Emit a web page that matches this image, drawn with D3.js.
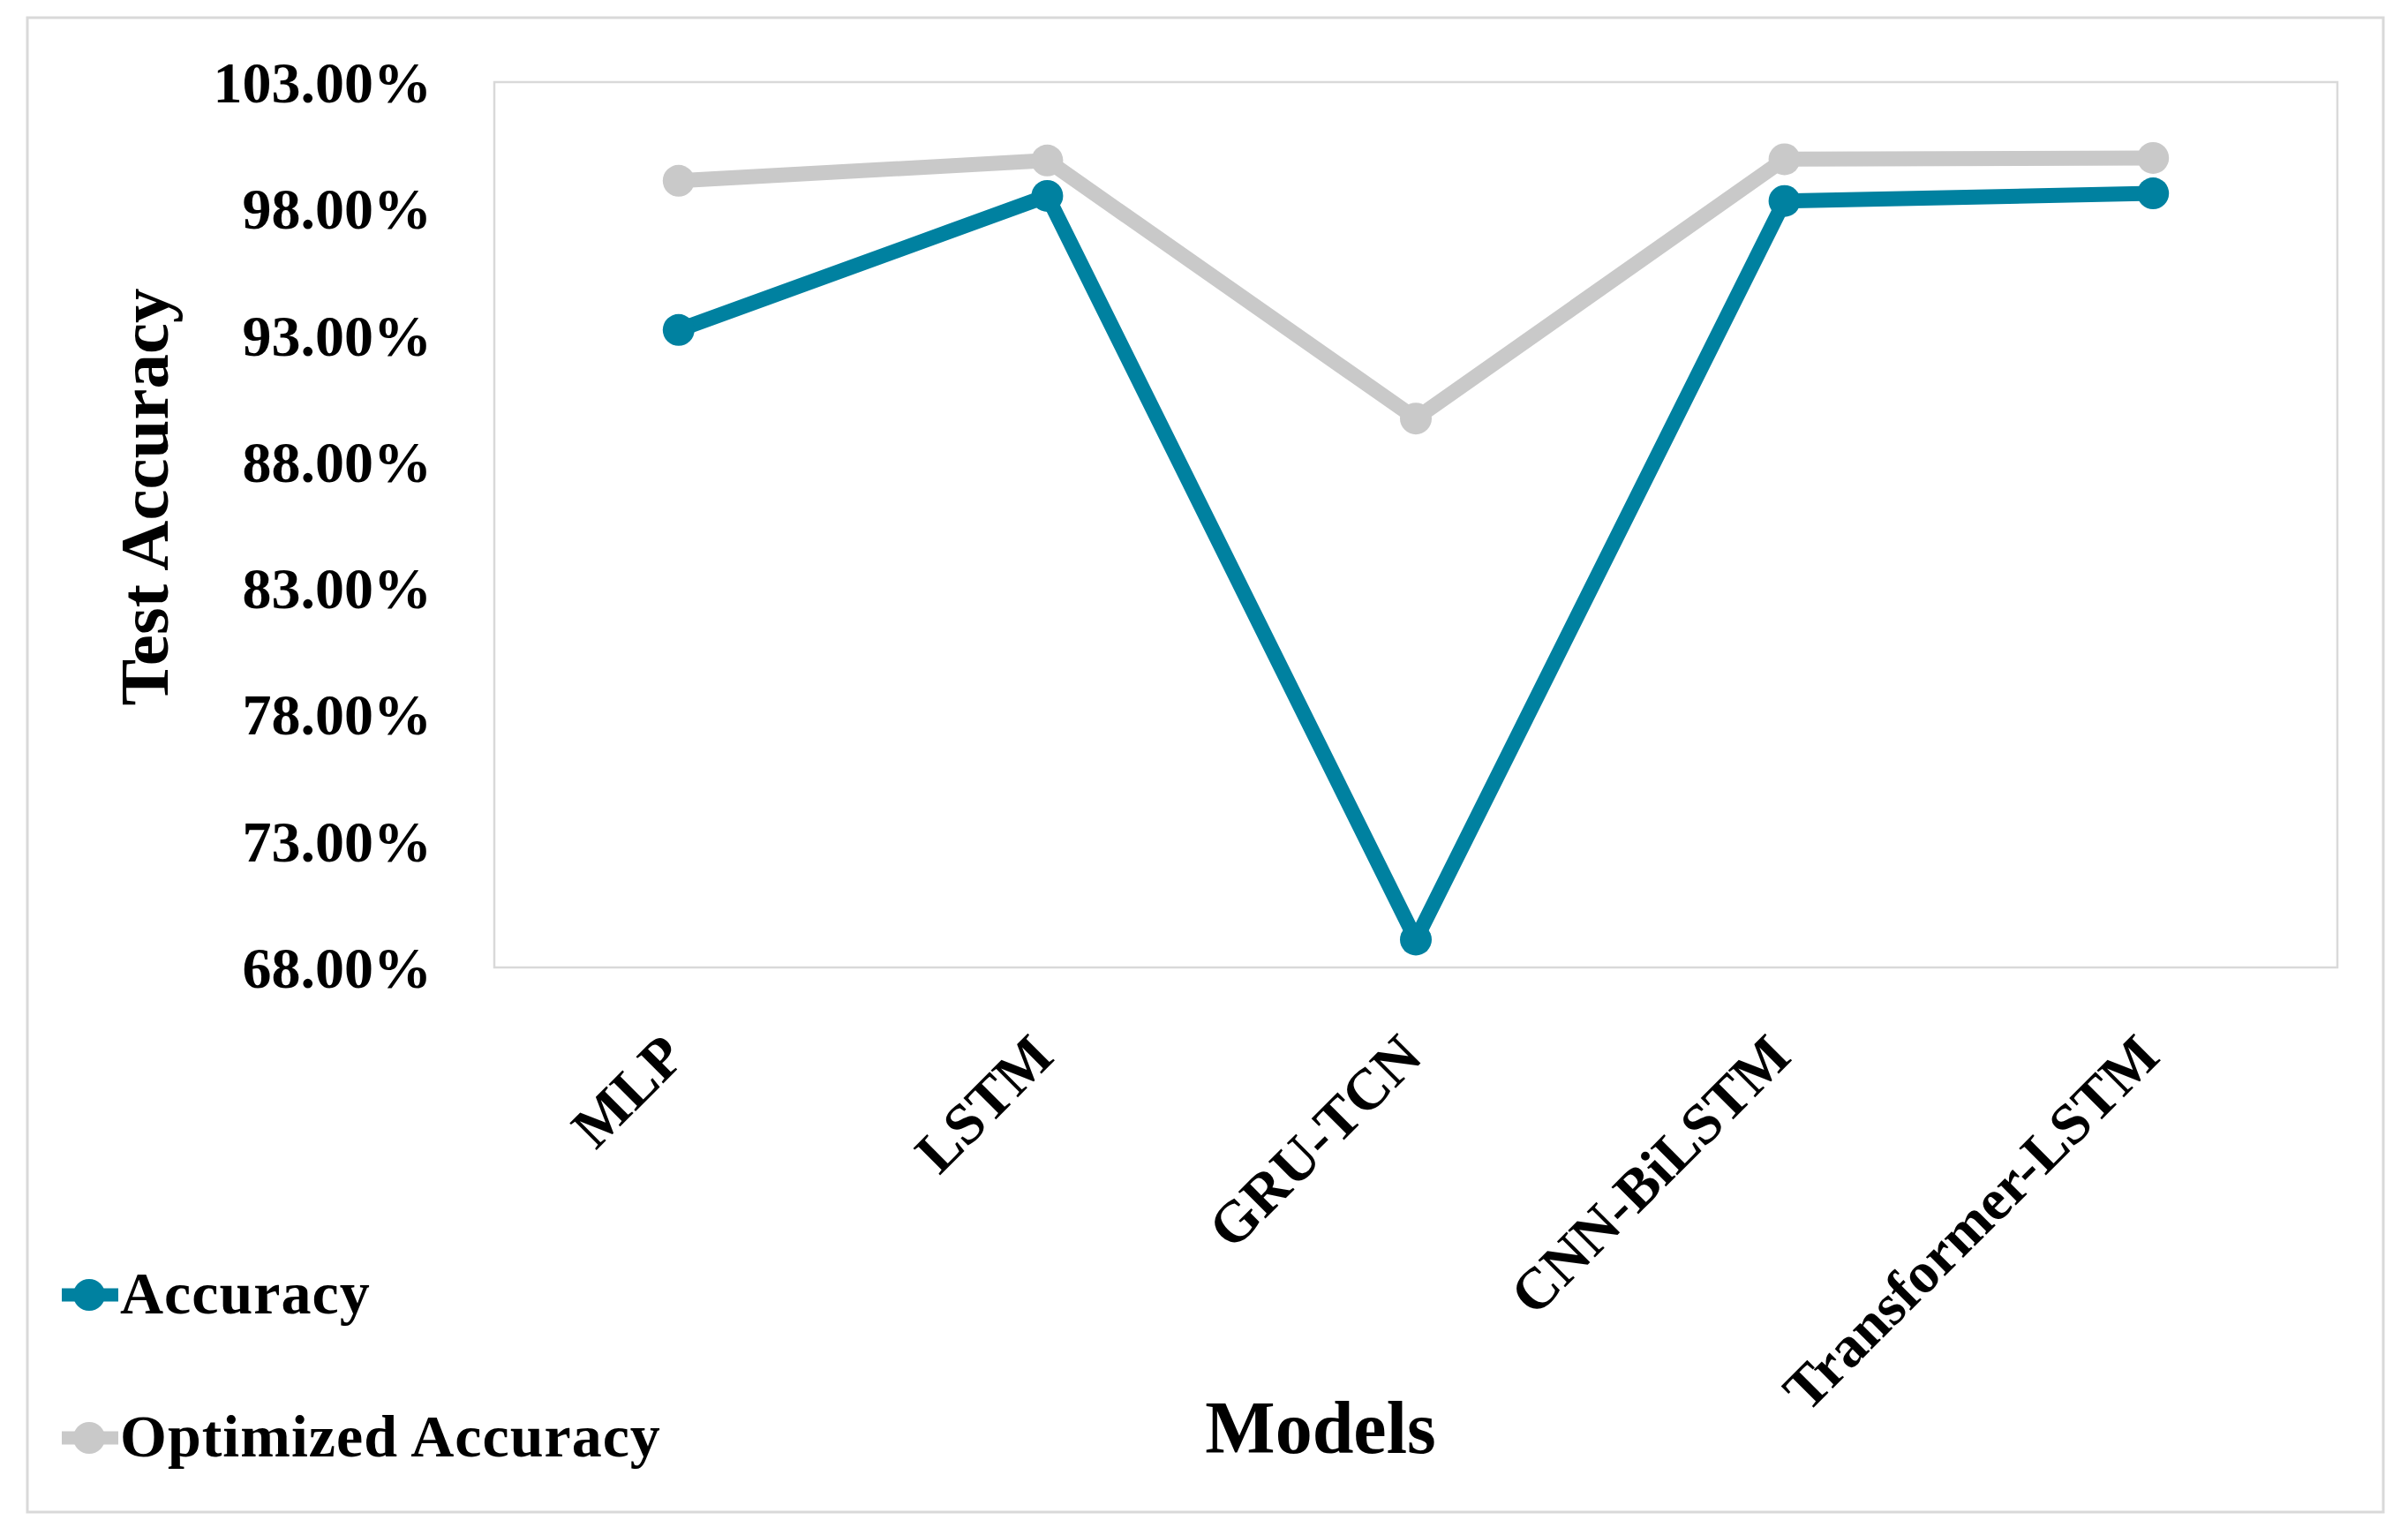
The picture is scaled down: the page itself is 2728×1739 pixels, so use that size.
<!DOCTYPE html>
<html>
<head>
<meta charset="utf-8">
<script src="https://cdn.jsdelivr.net/npm/d3@7"></script>
<style>
  html, body { margin: 0; padding: 0; background: #ffffff; }
  svg { display: block; }
  text { font-family: "Liberation Serif", "Times New Roman", serif; font-weight: bold; fill: #000; }
</style>
</head>
<body>
<script>
// ---- data ----
const categories = ["MLP", "LSTM", "GRU-TCN", "CNN-BiLSTM", "Transformer-LSTM"];
const accuracy = [93.2, 98.5, 69.1, 98.3, 98.6];
const optimizedAccuracy = [99.1, 99.9, 89.7, 99.95, 100.0];
const yTicks = [68, 73, 78, 83, 88, 93, 98, 103];
const seriesNames = ["Accuracy", "Optimized Accuracy"];
const seriesColors = ["#0081A0", "#C9C9C9"];

const W = 2728, H = 1739;
const plot = { left: 560, right: 2648, top: 93, bottom: 1096 };

const svg = d3.select("body").append("svg").attr("width", W).attr("height", H);

// outer frame
svg.append("rect").attr("x", 31).attr("y", 20).attr("width", 2669).attr("height", 1693)
  .attr("fill", "#fff").attr("stroke", "#d9d9d9").attr("stroke-width", 3);

// plot area frame
svg.append("rect").attr("x", plot.left).attr("y", plot.top)
  .attr("width", plot.right - plot.left).attr("height", plot.bottom - plot.top)
  .attr("fill", "#fff").attr("stroke", "#d9d9d9").attr("stroke-width", 2.5);

const x = d3.scaleBand().domain(categories).range([plot.left, plot.right]);
const y = d3.scaleLinear().domain([68, 103]).range([plot.bottom, plot.top]);
const cx = c => x(c) + x.bandwidth() / 2;

// y axis
const yAxis = d3.axisLeft(y).tickValues(yTicks).tickSize(0).tickPadding(0)
  .tickFormat(d => d.toFixed(2) + "%");
const gy = svg.append("g").attr("transform", `translate(489,0)`).call(yAxis);
gy.select(".domain").remove();
gy.selectAll("text").attr("font-size", 66).attr("font-family", "Liberation Serif")
  .attr("font-weight", "bold").attr("fill", "#000").attr("dy", "0.34em");

// x axis
const xAxis = d3.axisBottom(x).tickSize(0).tickPadding(0);
const gx = svg.append("g").call(xAxis);
gx.select(".domain").remove();
gx.selectAll(".tick").attr("transform", d => `translate(${cx(d) + 10},1200)`);
gx.selectAll("text").attr("font-size", 66).attr("font-family", "Liberation Serif")
  .attr("font-weight", "bold").attr("fill", "#000")
  .attr("text-anchor", "end").attr("x", 0).attr("y", 0).attr("dy", 0)
  .attr("transform", "rotate(-45)");

// axis titles
svg.append("text").attr("transform", "translate(190,563) rotate(-90)")
  .attr("text-anchor", "middle").attr("font-size", 79).text("Test Accuracy");
svg.append("text").attr("x", 1496).attr("y", 1646)
  .attr("text-anchor", "middle").attr("font-size", 84).text("Models");

// series
const seriesData = [accuracy, optimizedAccuracy];
const line = d3.line().x(d => cx(d.c)).y(d => y(d.v));
[1, 0].forEach(i => {
  const pts = categories.map((c, k) => ({ c, v: seriesData[i][k] }));
  const g = svg.append("g");
  g.append("path").datum(pts).attr("d", line).attr("fill", "none")
    .attr("stroke", seriesColors[i]).attr("stroke-width", 17)
    .attr("stroke-linejoin", "round");
  g.selectAll("circle").data(pts).join("circle")
    .attr("cx", d => cx(d.c)).attr("cy", d => y(d.v)).attr("r", 18)
    .attr("fill", seriesColors[i]);
});

// legend
const legendY = [1467, 1629];
seriesNames.forEach((name, i) => {
  const g = svg.append("g").attr("transform", `translate(0,${legendY[i]})`);
  g.append("line").attr("x1", 70).attr("x2", 134).attr("y1", 0).attr("y2", 0)
    .attr("stroke", seriesColors[i]).attr("stroke-width", 15);
  g.append("circle").attr("cx", 101).attr("cy", 0).attr("r", 18).attr("fill", seriesColors[i]);
  g.append("text").attr("x", 136).attr("y", 21).attr("font-size", 68)
    .attr("letter-spacing", 1).text(name);
});
</script>
</body>
</html>
